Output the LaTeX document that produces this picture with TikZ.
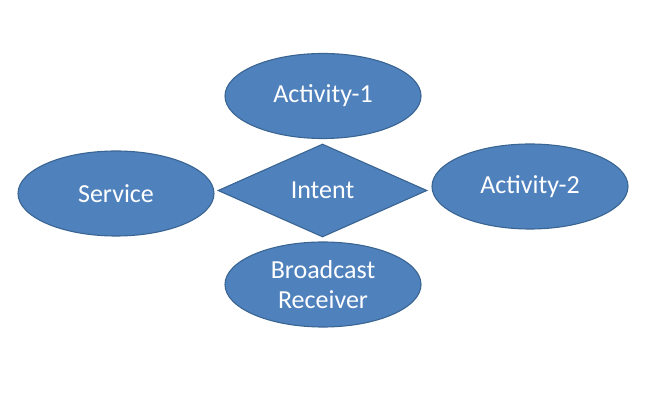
\documentclass[tikz,border=0pt]{standalone}
\usepackage{fontspec}
\setmainfont{Carlito}
\usetikzlibrary{shapes.geometric}
\definecolor{shapefill}{HTML}{4F81BD}
\definecolor{shapeedge}{HTML}{3A6592}

\begin{document}
\begin{tikzpicture}[x=1pt, y=-1pt,
    comp/.style={ellipse, draw=shapeedge, fill=shapefill, line width=1.1pt,
      text=white, minimum width=196pt, minimum height=85pt, inner sep=0pt,
      align=center, font=\fontsize{26}{30}\selectfont},
    hub/.style={diamond, draw=shapeedge, fill=shapefill, line width=1.1pt,
      text=white, minimum width=209pt, minimum height=93pt, inner sep=0pt,
      font=\fontsize{26}{30}\selectfont}]
  \useasboundingbox (0,0) rectangle (656,403);
  \node[hub]  (intent)    at (322.5,190.5) {Intent};
  \node[comp] (activity1) at (323,96)      {Activity-1};
  \node[comp] (service)   at (116,193.5)   {Service};
  \node[comp] (activity2) at (530,186.5)   {Activity-2};
  \node[comp] (receiver)  at (323,284.5)   {Broadcast\\Receiver};
\end{tikzpicture}
\end{document}
